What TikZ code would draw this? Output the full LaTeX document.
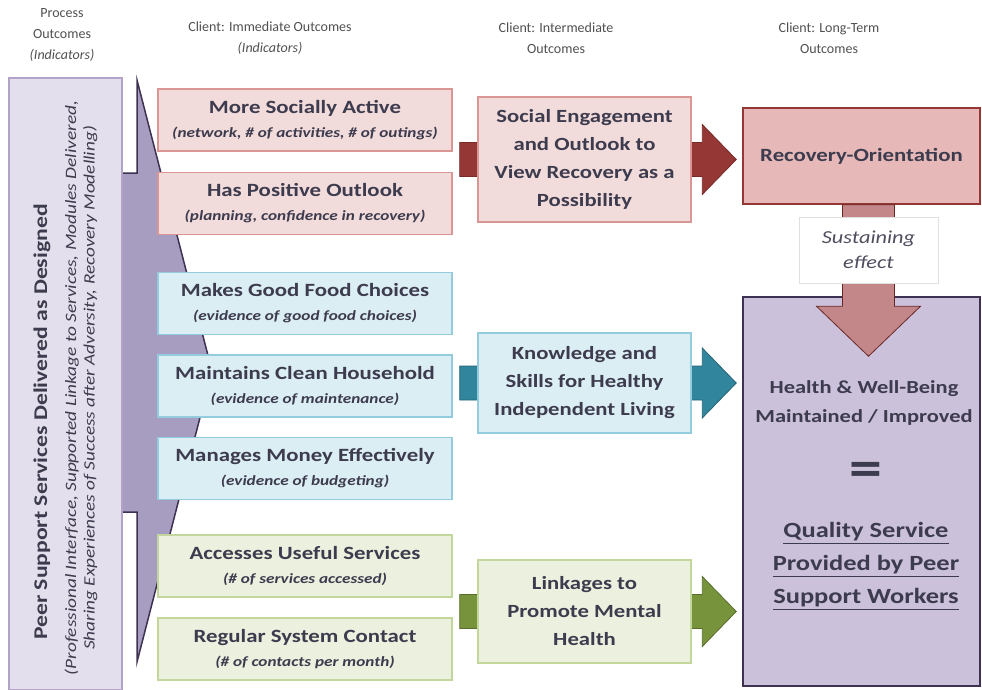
\documentclass[tikz,border=0pt]{standalone}
\usepackage{fontspec}
\setmainfont{Carlito}
\newfontfamily\wide{Carlito}[FakeStretch=1.22]
\usetikzlibrary{calc,backgrounds}
\definecolor{ink}{HTML}{3D3B4E}
\definecolor{hdr}{HTML}{505050}
\definecolor{pinkfill}{HTML}{F2DCDB}
\definecolor{pinkline}{HTML}{D99694}
\definecolor{recfill}{HTML}{E6B9B8}
\definecolor{recline}{HTML}{953735}
\definecolor{bluefill}{HTML}{DBEEF4}
\definecolor{blueline}{HTML}{93CDDD}
\definecolor{greenfill}{HTML}{EBF1DE}
\definecolor{greenline}{HTML}{C3D69B}
\definecolor{lilac}{HTML}{CCC1DA}
\definecolor{lilacline}{HTML}{3F3151}
\definecolor{peerfill}{HTML}{E4DFEC}
\definecolor{peerline}{HTML}{B3A2C7}
\definecolor{peerarrow}{HTML}{A69DC0}
\definecolor{redarrow}{HTML}{953735}
\definecolor{tealarrow}{HTML}{31859C}
\definecolor{greenarrow}{HTML}{77933C}
\definecolor{rosearrow}{HTML}{C3878A}
\newcommand{\ind}[1]{{\wide\fontsize{14.1}{17}\selectfont\bfseries\itshape #1}}
\newcommand{\blockarrow}[4]{%
  \draw[#1] let \p1=(#2), \p2=(#3), \p3=(#4) in
    (\x1+7pt,\y2+17pt) -- (\x3-40pt,\y2+17pt) -- (\x3-40pt,\y2+35pt) -- (\x3-6pt,\y2)
    -- (\x3-40pt,\y2-35pt) -- (\x3-40pt,\y2-17pt) -- (\x1+7pt,\y2-17pt) -- cycle;}

\begin{document}
\begin{tikzpicture}[x=1pt,y=-1pt,
    head/.style={text=hdr,align=center,font=\fontsize{14}{21}\selectfont},
    imm/.style={draw,line width=1.3pt,minimum width=294pt,minimum height=62pt,align=center,
      text=ink,font=\wide\fontsize{18.7}{24}\selectfont\bfseries},
    inter/.style={draw,line width=1.3pt,minimum width=213pt,align=center,
      text=ink,font=\wide\fontsize{18.6}{28}\selectfont\bfseries},
    arr/.style={line width=0.8pt}]
  \useasboundingbox (0,0) rectangle (982,690);

  \node[head] (hProc) at (62,35) {Process\\Outcomes\\\textit{(Indicators)}};
  \node[head] (hImm) at (270,38) {Client: Immediate Outcomes\\\textit{(Indicators)}};
  \node[head] (hInt) at (556,38) {Client: Intermediate\\Outcomes};
  \node[head] (hLong) at (829,38) {Client: Long-Term\\Outcomes};

  \node[draw=peerline,fill=peerfill,line width=1.3pt,minimum width=113pt,minimum height=612pt] (peer) at (65.5,384) {};
  \node[rotate=90,text=ink,font=\wide\fontsize{19.4}{24}\selectfont\bfseries] (peerT) at (42,422) {Peer Support Services Delivered as Designed};
  \node[rotate=90,text=ink,align=center,font=\wide\fontsize{15.8}{18.5}\selectfont\itshape] (peerS) at (81,388)
    {(Professional Interface, Supported Linkage to Services, Modules Delivered,\\Sharing Experiences of Success after Adversity, Recovery Modelling)};

  \node[imm,draw=pinkline,fill=pinkfill] (im1) at (305,120) {More Socially Active\\\ind{(network, \# of activities, \# of outings)}};
  \node[imm,draw=pinkline,fill=pinkfill] (im2) at (305,203.5) {Has Positive Outlook\\\ind{(planning, confidence in recovery)}};
  \node[imm,draw=blueline,fill=bluefill] (im3) at (305,303.5) {Makes Good Food Choices\\\ind{(evidence of good food choices)}};
  \node[imm,draw=blueline,fill=bluefill] (im4) at (305,386) {Maintains Clean Household\\\ind{(evidence of maintenance)}};
  \node[imm,draw=blueline,fill=bluefill] (im5) at (305,468.5) {Manages Money Effectively\\\ind{(evidence of budgeting)}};
  \node[imm,draw=greenline,fill=greenfill] (im6) at (305,566) {Accesses Useful Services\\\ind{(\# of services accessed)}};
  \node[imm,draw=greenline,fill=greenfill] (im7) at (305,649) {Regular System Contact\\\ind{(\# of contacts per month)}};

  \node[draw=recline,fill=recfill,line width=1.5pt,minimum width=237pt,minimum height=96pt,text=ink,
    font=\wide\fontsize{18.7}{24}\selectfont\bfseries] (recov) at (861.5,156) {Recovery-Orientation};
  \node[draw=lilacline,fill=lilac,line width=1.5pt,minimum width=237pt,minimum height=389pt] (health) at (861.5,491.5) {};
  \node[text=ink,align=center,font=\wide\fontsize{18.4}{29}\selectfont\bfseries] (hw) at (864,403)
    {Health \& Well-Being\\Maintained / Improved};
  \node[text=ink,font=\wide\fontsize{54}{54}\selectfont\bfseries] (eq) at (866,474) {=};
  \node[text=ink,align=center,font=\wide\fontsize{21.7}{33}\selectfont\bfseries] (qs) at (866,566)
    {\underline{Quality Service}\\\underline{Provided by Peer}\\\underline{Support Workers}};

  \blockarrow{arr,fill=redarrow,draw=redarrow!80!black}{im1.east}{584.5,159.5}{recov.west}
  \blockarrow{arr,fill=tealarrow,draw=tealarrow!75!black}{im4.east}{584.5,383}{health.west}
  \blockarrow{arr,fill=greenarrow,draw=greenarrow!75!black}{im6.east}{584.5,611.5}{health.west}

  \node[inter,draw=pinkline,fill=pinkfill,minimum height=125pt] (intR) at (584.5,159.5)
    {Social Engagement\\and Outlook to\\View Recovery as a\\Possibility};
  \node[inter,draw=blueline,fill=bluefill,minimum height=100pt] (intB) at (584.5,383)
    {Knowledge and\\Skills for Healthy\\Independent Living};
  \node[inter,draw=greenline,fill=greenfill,minimum height=103pt] (intG) at (584.5,611.5)
    {Linkages to\\Promote Mental\\Health};

  \draw[arr,fill=rosearrow,draw=recline!70!black] let \p1=(recov.south), \p2=(health.north) in
    (\x1+7pt-26pt,\y1) -- (\x1+7pt-26pt,\y2-10pt) -- (\x1+7pt-52pt,\y2-10pt) -- (\x1+7pt,\y2-60pt)
    -- (\x1+7pt+52pt,\y2-10pt) -- (\x1+7pt+26pt,\y2-10pt) -- (\x1+7pt+26pt,\y1) -- cycle;
  \node[draw=black!12,fill=white,minimum width=139pt,minimum height=66pt,align=center,text=ink!90,
    font=\wide\fontsize{18.3}{25}\selectfont\itshape] (sust) at (868.5,250) {Sustaining\\effect};

  \begin{scope}[on background layer]
    \draw[fill=peerarrow,draw=lilacline,line width=1.5pt]
      (100,173) -- (137,173) -- (137,80) -- (212,371) -- (137,662) -- (137,512) -- (100,512) -- cycle;
  \end{scope}
\end{tikzpicture}
\end{document}
